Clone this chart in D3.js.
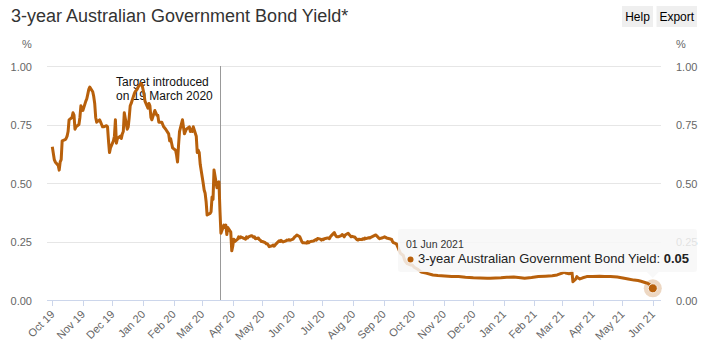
<!DOCTYPE html>
<html>
<head>
<meta charset="utf-8">
<script src="https://cdn.jsdelivr.net/npm/d3@7"></script>
<style>
  html, body { margin: 0; padding: 0; background: #fff; }
  svg { display: block; font-family: "Liberation Sans", Arial, Helvetica, sans-serif; }
</style>
</head>
<body>
<svg id="chart" width="722" height="357"></svg>
<script>
// ---------------- data ----------------
const title = "3-year Australian Government Bond Yield*";
const seriesName = "3-year Australian Government Bond Yield";
const dates = [
"2019-10-01","2019-10-03","2019-10-04","2019-10-07","2019-10-08","2019-10-09","2019-10-10","2019-10-11","2019-10-14","2019-10-15",
"2019-10-16","2019-10-17","2019-10-18","2019-10-21","2019-10-22","2019-10-23","2019-10-24","2019-10-25","2019-10-28","2019-10-29",
"2019-10-30","2019-10-31","2019-11-01","2019-11-04","2019-11-05","2019-11-06","2019-11-07","2019-11-08","2019-11-11","2019-11-12",
"2019-11-13","2019-11-14","2019-11-15","2019-11-18","2019-11-19","2019-11-20","2019-11-21","2019-11-22","2019-11-25","2019-11-26",
"2019-11-27","2019-11-28","2019-11-29","2019-12-02","2019-12-03","2019-12-04","2019-12-05","2019-12-06","2019-12-09","2019-12-10",
"2019-12-11","2019-12-12","2019-12-13","2019-12-16","2019-12-17","2019-12-18","2019-12-19","2019-12-20","2019-12-23","2019-12-24",
"2019-12-26","2019-12-27","2019-12-30","2019-12-31","2020-01-02","2020-01-03","2020-01-06","2020-01-07","2020-01-08","2020-01-09",
"2020-01-10","2020-01-13","2020-01-14","2020-01-15","2020-01-16","2020-01-17","2020-01-20","2020-01-21","2020-01-22","2020-01-23",
"2020-01-24","2020-01-27","2020-01-28","2020-01-29","2020-01-30","2020-01-31","2020-02-03","2020-02-04","2020-02-05","2020-02-06",
"2020-02-07","2020-02-10","2020-02-11","2020-02-12","2020-02-13","2020-02-14","2020-02-17","2020-02-18","2020-02-19","2020-02-20",
"2020-02-21","2020-02-24","2020-02-25","2020-02-26","2020-02-27","2020-02-28","2020-03-02","2020-03-03","2020-03-04","2020-03-05",
"2020-03-06","2020-03-09","2020-03-10","2020-03-11","2020-03-12","2020-03-13","2020-03-16","2020-03-17","2020-03-18","2020-03-19",
"2020-03-20","2020-03-23","2020-03-24","2020-03-25","2020-03-26","2020-03-27","2020-03-30","2020-03-31","2020-04-01","2020-04-02",
"2020-04-03","2020-04-06","2020-04-07","2020-04-08","2020-04-09","2020-04-14","2020-04-15","2020-04-16","2020-04-17","2020-04-20",
"2020-04-21","2020-04-22","2020-04-23","2020-04-24","2020-04-27","2020-04-28","2020-04-29","2020-04-30","2020-05-01","2020-05-04",
"2020-05-05","2020-05-06","2020-05-07","2020-05-08","2020-05-11","2020-05-12","2020-05-13","2020-05-14","2020-05-15","2020-05-18",
"2020-05-19","2020-05-20","2020-05-21","2020-05-22","2020-05-25","2020-05-26","2020-05-27","2020-05-28","2020-05-29","2020-06-01",
"2020-06-02","2020-06-03","2020-06-04","2020-06-05","2020-06-08","2020-06-09","2020-06-10","2020-06-11","2020-06-12","2020-06-15",
"2020-06-16","2020-06-17","2020-06-18","2020-06-19","2020-06-22","2020-06-23","2020-06-24","2020-06-25","2020-06-26","2020-06-29",
"2020-06-30","2020-07-01","2020-07-02","2020-07-03","2020-07-06","2020-07-07","2020-07-08","2020-07-09","2020-07-10","2020-07-13",
"2020-07-14","2020-07-15","2020-07-16","2020-07-17","2020-07-20","2020-07-21","2020-07-22","2020-07-23","2020-07-24","2020-07-27",
"2020-07-28","2020-07-29","2020-07-30","2020-07-31","2020-08-03","2020-08-04","2020-08-05","2020-08-06","2020-08-07","2020-08-10",
"2020-08-11","2020-08-12","2020-08-13","2020-08-14","2020-08-17","2020-08-18","2020-08-19","2020-08-20","2020-08-21","2020-08-24",
"2020-08-25","2020-08-26","2020-08-27","2020-08-28","2020-08-31","2020-09-01","2020-09-02","2020-09-03","2020-09-04","2020-09-07",
"2020-09-08","2020-09-09","2020-09-10","2020-09-11","2020-09-14","2020-09-15","2020-09-16","2020-09-17","2020-09-18","2020-09-21",
"2020-09-22","2020-09-23","2020-09-24","2020-09-25","2020-09-28","2020-09-30","2020-10-02","2020-10-06","2020-10-09","2020-10-14",
"2020-10-21","2020-10-26","2020-11-02","2020-11-09","2020-11-16","2020-11-23","2020-12-01","2020-12-08","2020-12-15","2020-12-18",
"2020-12-29","2021-01-04","2021-01-11","2021-01-18","2021-01-22","2021-01-29","2021-02-05","2021-02-12","2021-02-19","2021-02-24",
"2021-03-01","2021-03-03","2021-03-05","2021-03-08","2021-03-10","2021-03-11","2021-03-12","2021-03-15","2021-03-16","2021-03-17",
"2021-03-19","2021-03-22","2021-03-26","2021-04-01","2021-04-08","2021-04-13","2021-04-19","2021-04-26","2021-05-03","2021-05-07",
"2021-05-13","2021-05-17","2021-05-20","2021-05-24","2021-05-27","2021-05-31","2021-06-01"
];
const yields = [
0.655,0.60,0.59,0.575,0.555,0.59,0.60,0.68,0.685,0.69,
0.70,0.72,0.77,0.78,0.80,0.79,0.73,0.74,0.75,0.78,
0.83,0.82,0.81,0.85,0.86,0.88,0.90,0.91,0.89,0.87,
0.84,0.78,0.76,0.77,0.76,0.75,0.74,0.74,0.745,0.74,
0.68,0.63,0.65,0.68,0.70,0.77,0.67,0.69,0.70,0.69,
0.71,0.72,0.80,0.73,0.74,0.78,0.83,0.84,0.88,0.89,
0.90,0.91,0.926,0.92,0.88,0.85,0.82,0.84,0.83,0.78,
0.77,0.81,0.80,0.79,0.79,0.76,0.76,0.75,0.74,0.735,
0.73,0.71,0.68,0.69,0.67,0.65,0.64,0.62,0.59,0.66,
0.72,0.77,0.74,0.71,0.72,0.73,0.74,0.72,0.73,0.72,
0.74,0.70,0.63,0.64,0.63,0.58,0.50,0.47,0.456,0.42,
0.363,0.37,0.377,0.44,0.43,0.556,0.48,0.50,0.505,0.385,
0.285,0.32,0.31,0.32,0.28,0.31,0.29,0.21,0.23,0.26,
0.25,0.26,0.27,0.265,0.27,0.26,0.27,0.265,0.27,0.275,
0.273,0.268,0.27,0.262,0.265,0.258,0.255,0.25,0.25,0.245,
0.24,0.24,0.235,0.228,0.232,0.235,0.23,0.235,0.24,0.253,
0.25,0.255,0.25,0.248,0.253,0.256,0.255,0.258,0.255,0.26,
0.265,0.27,0.273,0.278,0.27,0.26,0.25,0.245,0.245,0.243,
0.25,0.245,0.248,0.25,0.252,0.255,0.258,0.256,0.263,0.26,
0.256,0.26,0.258,0.262,0.265,0.265,0.262,0.27,0.275,0.288,
0.278,0.272,0.27,0.27,0.275,0.28,0.275,0.27,0.278,0.285,
0.28,0.275,0.27,0.272,0.268,0.262,0.258,0.256,0.26,0.258,
0.262,0.26,0.265,0.262,0.266,0.265,0.268,0.27,0.272,0.278,
0.274,0.27,0.265,0.262,0.266,0.268,0.27,0.268,0.265,0.262,
0.26,0.26,0.25,0.245,0.24,0.23,0.22,0.21,0.20,0.19,
0.175,0.165,0.16,0.155,0.15,0.15,0.14,0.13,0.12,0.115,
0.107,0.105,0.103,0.10,0.10,0.097,0.095,0.094,0.093,0.093,
0.095,0.097,0.098,0.095,0.093,0.096,0.10,0.102,0.104,0.107,
0.115,0.12,0.115,0.112,0.114,0.12,0.078,0.09,0.10,0.095,
0.09,0.095,0.10,0.10,0.102,0.10,0.10,0.098,0.093,0.09,
0.085,0.083,0.08,0.075,0.071,0.06,0.05
];
const yTicks = [0, 0.25, 0.5, 0.75, 1.0];
const monthTicks = ["2019-10-01","2019-11-01","2019-12-01","2020-01-01","2020-02-01","2020-03-01","2020-04-01",
  "2020-05-01","2020-06-01","2020-07-01","2020-08-01","2020-09-01","2020-10-01","2020-11-01","2020-12-01",
  "2021-01-01","2021-02-01","2021-03-01","2021-04-01","2021-05-01","2021-06-01"];
const plotLineDate = "2020-03-19";
const plotLineLabel = ["Target introduced", "on 19 March 2020"];
const tooltipDate = "01 Jun 2021";

// ---------------- drawing ----------------
const parse = d3.timeParse("%Y-%m-%d");
const data = dates.map((d, i) => ({ date: parse(d), value: yields[i] }));
const color = "#b8600b";
const svg = d3.select("#chart");
svg.append("rect").attr("width", 722).attr("height", 357).attr("fill", "#fff");

const plotL = 47, plotR = 661, plotT = 66, plotB = 300;
const x = d3.scaleTime().domain([parse("2019-10-01"), parse("2021-06-01")]).range([52.3, 652.8]);
const y = d3.scaleLinear().domain([0, 1]).range([plotB, plotT]);

// title
svg.append("text").attr("x", 11).attr("y", 21.5).attr("font-size", 18).attr("fill", "#333").text(title);

// buttons
const btns = [["Help", 622, 31], ["Export", 656.5, 40.5]];
btns.forEach(([t, bx, bw]) => {
  svg.append("rect").attr("x", bx).attr("y", 6).attr("width", bw).attr("height", 21).attr("fill", "#efefef");
  svg.append("text").attr("x", bx + bw / 2).attr("y", 21).attr("text-anchor", "middle")
    .attr("font-size", 12).attr("fill", "#000").text(t);
});

// units
svg.append("text").attr("x", 22).attr("y", 47.5).attr("font-size", 11).attr("fill", "#666").text("%");
svg.append("text").attr("x", 676).attr("y", 47.5).attr("font-size", 11).attr("fill", "#666").text("%");

// gridlines
svg.append("g").selectAll("line").data(yTicks.filter(v => v > 0)).join("line")
  .attr("x1", plotL).attr("x2", plotR)
  .attr("y1", d => Math.round(y(d)) + 0.5).attr("y2", d => Math.round(y(d)) + 0.5)
  .attr("stroke", "#e6e6e6").attr("stroke-width", 1);

// y labels both sides
const fmt = d3.format(".2f");
svg.append("g").selectAll("text").data(yTicks).join("text")
  .attr("x", 32).attr("y", d => y(d) + 4.5).attr("text-anchor", "end")
  .attr("font-size", 11).attr("fill", "#666").text(fmt);
svg.append("g").selectAll("text").data(yTicks).join("text")
  .attr("x", 676).attr("y", d => y(d) + 4.5).attr("text-anchor", "start")
  .attr("font-size", 11).attr("fill", "#666").text(fmt);

// x axis
svg.append("line").attr("x1", plotL).attr("x2", plotR).attr("y1", plotB + 0.5).attr("y2", plotB + 0.5)
  .attr("stroke", "#ccd6eb").attr("stroke-width", 1);
const tickDates = monthTicks.map(parse);
const fmtM = d3.timeFormat("%b %y");
svg.append("g").selectAll("line").data(tickDates).join("line")
  .attr("x1", d => Math.round(x(d)) + 0.5).attr("x2", d => Math.round(x(d)) + 0.5)
  .attr("y1", plotB).attr("y2", plotB + 6).attr("stroke", "#ccd6eb");
svg.append("g").selectAll("text").data(tickDates).join("text")
  .attr("text-anchor", "end").attr("font-size", 11).attr("fill", "#666")
  .attr("transform", d => `translate(${x(d) + 3},${plotB + 15}) rotate(-45)`)
  .text(fmtM);

// plot line
const plx = Math.round(x(parse(plotLineDate))) + 0.5;
svg.append("line").attr("x1", plx).attr("x2", plx).attr("y1", plotT).attr("y2", plotB)
  .attr("stroke", "#999").attr("stroke-width", 1);
svg.append("g").selectAll("text").data(plotLineLabel).join("text")
  .attr("x", 116).attr("y", (d, i) => 86 + i * 13.8).attr("font-size", 12).attr("fill", "#111").text(d => d);

// series line
const line = d3.line().x(d => x(d.date)).y(d => y(d.value));
svg.append("path").datum(data).attr("d", line).attr("fill", "none")
  .attr("stroke", color).attr("stroke-width", 3).attr("stroke-linejoin", "round");

// hovered point
const last = data[data.length - 1];
svg.append("circle").attr("cx", x(last.date)).attr("cy", y(last.value)).attr("r", 9)
  .attr("fill", color).attr("opacity", 0.25);
svg.append("circle").attr("cx", x(last.date)).attr("cy", y(last.value)).attr("r", 4.5)
  .attr("fill", color).attr("stroke", "#fff").attr("stroke-width", 0.8);

// tooltip
const tx = 398, ty = 229, tw = 299, th = 43;
const px = x(last.date);
svg.append("path")
  .attr("d", `M${tx + 3},${ty} H${tx + tw - 3} Q${tx + tw},${ty} ${tx + tw},${ty + 3} V${ty + th - 3} Q${tx + tw},${ty + th} ${tx + tw - 3},${ty + th} H${px + 6} L${px},${ty + th + 6} L${px - 6},${ty + th} H${tx + 3} Q${tx},${ty + th} ${tx},${ty + th - 3} V${ty + 3} Q${tx},${ty} ${tx + 3},${ty} Z`)
  .attr("fill", "#f7f7f7").attr("fill-opacity", 0.85);
svg.append("text").attr("x", 406).attr("y", 248).attr("font-size", 10.5).attr("fill", "#333").text(tooltipDate);
svg.append("circle").attr("cx", 410.5).attr("cy", 259.5).attr("r", 3).attr("fill", color);
const t2 = svg.append("text").attr("x", 418).attr("y", 263.3).attr("font-size", 13).attr("fill", "#222");
t2.append("tspan").text(seriesName + ": ");
t2.append("tspan").attr("font-weight", "bold").text(fmt(last.value));
</script>
</body>
</html>
